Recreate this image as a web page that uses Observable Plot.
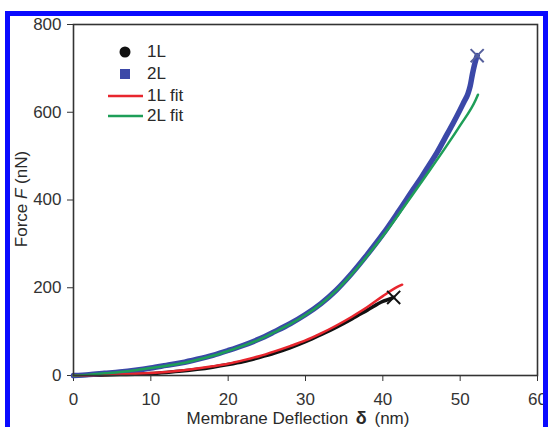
<!DOCTYPE html>
<html><head><meta charset="utf-8">
<script src="https://cdn.jsdelivr.net/npm/d3@7"></script>
<script src="https://cdn.jsdelivr.net/npm/@observablehq/plot@0.6"></script>
<style>
body{margin:0;background:#fff;width:548px;height:427px;overflow:hidden;position:relative;font-family:"Liberation Sans",Arial,sans-serif;color:#2a2a2a;}
#chart{position:absolute;left:0;top:0;}
#border{position:absolute;left:5px;top:11px;width:533px;height:500px;border:5px solid #0a0aff;border-bottom:none;pointer-events:none;}
.lbl{position:absolute;font-size:17px;line-height:17px;white-space:nowrap;color:#2a2a2a;}
#ylab{left:21px;top:199px;transform:translate(-50%,-50%) rotate(-90deg);}
#xlab{left:298px;top:410px;transform:translateX(-50%);}
.leg{position:absolute;left:104px;font-size:17px;height:20px;display:flex;align-items:center;}
.leg svg{width:42px;height:20px;}
</style></head>
<body>
<div id="chart"></div>
<div class="lbl" id="ylab">Force <i>F</i> (nN)</div>
<div class="lbl" id="xlab">Membrane Deflection <b style="font-size:18px;margin:0 3px">δ</b> (nm)</div>
<div id="legend"></div>
<div id="border"></div>
<script>
// tick labels
const xTicks = [0, 10, 20, 30, 40, 50, 60];
const yTicks = [0, 200, 400, 600, 800];

// 1L measured data (deflection nm, force nN)
const delta1L = [0, 2, 4, 6, 8, 10, 12, 14, 16, 18, 20, 22, 24, 26, 28, 30, 32, 34, 36, 38, 40, 41, 41.4];
const force1L = [0, 0.3, 1, 2, 3, 4.5, 7, 10, 14, 19, 25, 32, 41, 51, 63, 77, 93, 110, 129, 149, 169, 175, 178];

// 2L measured data
const delta2L = [0, 2, 4, 6, 8, 10, 12, 14, 16, 18, 20, 22, 24, 26, 28, 30, 32, 34, 36, 38, 40, 42, 44, 45, 46, 47, 48, 49, 50, 50.5, 51, 51.3, 51.6, 52, 52.2];
const force2L = [0, 2, 5, 8, 12, 17, 23, 29, 37, 46, 57, 69, 83, 100, 118, 139, 164, 195, 233, 276, 322, 373, 426, 452, 480, 508, 540, 572, 606, 624, 642, 660, 688, 718, 729];

// 1L fit
const deltaFit1L = [0, 2, 4, 6, 8, 10, 12, 14, 16, 18, 20, 22, 24, 26, 28, 30, 32, 34, 36, 38, 40, 42, 42.5];
const forceFit1L = [0, 0.6, 1.4, 2.4, 3.8, 5.7, 8.2, 11.5, 15.7, 21, 27, 35, 44, 55, 67, 80, 96, 114, 134, 156, 181, 203, 207];

// 2L fit
const deltaFit2L = [0, 2, 4, 6, 8, 10, 12, 14, 16, 18, 20, 22, 24, 26, 28, 30, 32, 34, 36, 38, 40, 42, 44, 46, 48, 50, 52, 52.3];
const forceFit2L = [0, 2, 5, 8, 12, 17, 22, 28, 36, 45, 56, 68, 82, 99, 117, 138, 163, 194, 231, 273, 318, 366, 416, 466, 517, 570, 628, 640];

// rupture points
const breakDelta = [41.4, 52.2];
const breakForce = [178, 729];
const breakColors = ["#111111", "#56609c"];

// legend
const legendLabels = ["1L", "2L", "1L fit", "2L fit"];
const legendColors = ["#111111", "#3b48a8", "#e8262e", "#1e9e58"];

const pts = (xs, ys) => xs.map((d, i) => ({d, f: ys[i]}));
const breaks = breakDelta.map((d, i) => ({d, f: breakForce[i], c: breakColors[i]}));

const chart = Plot.plot({
  width: 548, height: 427,
  marginLeft: 73, marginRight: 11, marginTop: 24, marginBottom: 52,
  style: {fontSize: "17px", fontFamily: "'Liberation Sans', Arial, sans-serif", color: "#333", background: "transparent"},
  x: {domain: [0, 60], ticks: xTicks, tickSize: 6, tickPadding: 11, label: null},
  y: {domain: [0, 800], ticks: yTicks, tickSize: 6, tickPadding: 6, label: null},
  marks: [
    Plot.line(pts(delta1L, force1L), {x: "d", y: "f", stroke: legendColors[0], strokeWidth: 3.5, curve: "monotone-x"}),
    Plot.line(pts(delta2L, force2L), {x: "d", y: "f", stroke: legendColors[1], strokeWidth: 5.5, curve: "monotone-x"}),
    Plot.line(pts(deltaFit1L, forceFit1L), {x: "d", y: "f", stroke: legendColors[2], strokeWidth: 2.5, curve: "monotone-x"}),
    Plot.line(pts(deltaFit2L, forceFit2L), {x: "d", y: "f", stroke: legendColors[3], strokeWidth: 2.5, curve: "monotone-x"}),
    Plot.dot(breaks, {x: "d", y: "f", symbol: "times", r: 6, stroke: "c", strokeWidth: 2}),
    Plot.frame({stroke: "#333", strokeWidth: 1.6})
  ]
});
document.getElementById("chart").append(chart);

// legend rows
const legend = document.getElementById("legend");
const rowTops = [42, 64, 86, 106];
legendLabels.forEach((lab, i) => {
  const row = document.createElement("div");
  row.className = "leg";
  row.style.top = rowTops[i] + "px";
  let sym;
  if (i === 0) sym = `<circle cx="21" cy="10" r="5.5" fill="${legendColors[i]}"/>`;
  else if (i === 1) sym = `<rect x="16" y="5" width="10" height="10" fill="${legendColors[i]}"/>`;
  else sym = `<line x1="4" x2="39" y1="10" y2="10" stroke="${legendColors[i]}" stroke-width="2.5"/>`;
  row.innerHTML = `<svg viewBox="0 0 42 20">${sym}</svg><span style="margin-left:1px">${lab}</span>`;
  legend.append(row);
});
</script>
</body></html>
